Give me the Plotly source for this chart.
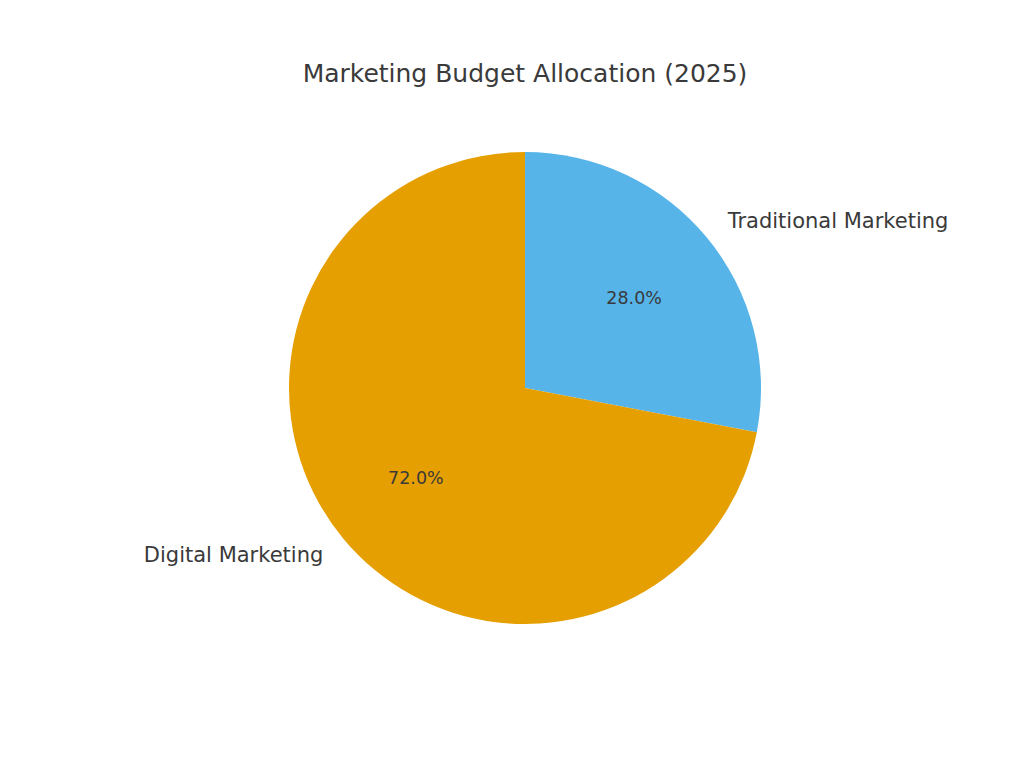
import plotly.graph_objects as go

categories = ["Traditional Marketing", "Digital Marketing"]
shares = [28.0, 72.0]
colors = ["#56B4E9", "#E69F00"]
title_text = "Marketing Budget Allocation (2025)"

W, H = 1024, 768
cx, cy, r = 525, 388, 236
r_lbl = 254
font_fam = "DejaVu Sans"
txt_col = "#3a3a3a"


def dom(rad):
    return dict(x=[(cx - rad) / W, (cx + rad) / W],
                y=[(H - cy - rad) / H, (H - cy + rad) / H])


clear = ["rgba(0,0,0,0)"] * len(categories)
common = dict(labels=categories, values=shares, sort=False, direction="clockwise",
              rotation=0, showlegend=False)

fig = go.Figure()
# coloured wedges
fig.add_trace(go.Pie(**common, marker=dict(colors=colors, line=dict(width=0)),
                     textinfo="none", domain=dom(r), hoverinfo="label+percent"))
# percentage labels (inside, placed mid-ring)
fig.add_trace(go.Pie(**common, marker=dict(colors=clear, line=dict(width=0)),
                     hole=0.2, textinfo="percent", texttemplate="%{percent:.1%}",
                     textposition="inside", insidetextorientation="horizontal",
                     textfont=dict(family=font_fam, size=17.5, color=txt_col),
                     domain=dom(r), hoverinfo="skip"))
# category labels (outside)
fig.add_trace(go.Pie(**common, marker=dict(colors=clear, line=dict(width=0)),
                     textinfo="label", textposition="outside",
                     textfont=dict(family=font_fam, size=21, color=txt_col),
                     domain=dom(r_lbl), hoverinfo="skip"))
fig.update_layout(
    width=W, height=H, margin=dict(l=0, r=0, t=0, b=0),
    paper_bgcolor="white", plot_bgcolor="white",
    title=dict(text=title_text, x=cx / W, xanchor="center", y=1 - 73 / H, yanchor="middle",
               font=dict(family=font_fam, size=25, color=txt_col)),
)
fig.write_html("out.html")
